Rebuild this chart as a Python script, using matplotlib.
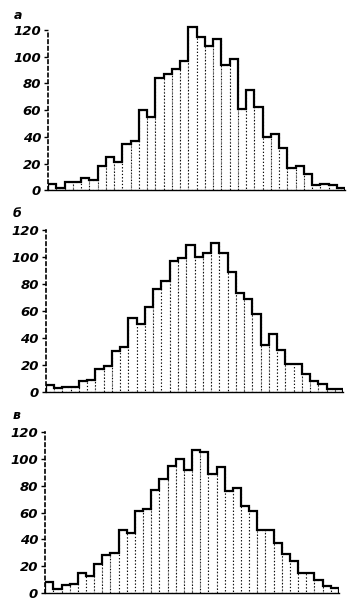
import matplotlib
matplotlib.use('Agg')
import matplotlib.pyplot as plt
import numpy as np

# частоты по классам для трёх гистограмм
counts_a = [5, 2, 6, 6, 9, 8, 18, 25, 21, 35, 37, 60, 55, 84, 87, 91, 97, 122,
            115, 108, 113, 94, 98, 61, 75, 62, 40, 42, 32, 17, 18, 12, 4, 5, 4, 2]
counts_b = [5, 3, 4, 4, 8, 9, 17, 19, 30, 33, 55, 50, 63, 76, 82, 97, 99, 109,
            100, 103, 110, 103, 89, 73, 69, 58, 35, 43, 31, 21, 21, 13, 8, 6, 2, 2]
counts_c = [8, 3, 6, 7, 15, 13, 22, 28, 30, 47, 45, 61, 63, 77, 85, 95, 100, 92,
            107, 105, 89, 94, 76, 78, 65, 61, 47, 47, 37, 29, 24, 15, 15, 10, 5, 4]
panel_labels = ['а', 'б', 'в']
y_ticks = [0, 20, 40, 60, 80, 100, 120]

fig = plt.figure(figsize=(3.53, 6.02), dpi=100)
ymax = 125
k = ymax / 120
positions = [
    [0.136, 0.684, 0.842, 0.266 * k],
    [0.130, 0.349, 0.842, 0.269 * k],
    [0.128, 0.015, 0.832, 0.267 * k],
]
label_pos = [(0.04, 0.975), (0.035, 0.645), (0.035, 0.31)]

for counts, pos, lab, lp in zip([counts_a, counts_b, counts_c], positions,
                                panel_labels, label_pos):
    ax = fig.add_axes(pos)
    n = len(counts)
    edges = np.arange(n + 1)
    # пунктирные стенки столбцов
    ax.bar(edges[:-1], counts, width=1, align='edge', color='white',
           edgecolor='black', linewidth=0.8, linestyle=(0, (1, 2)))
    # жирный контур вершин
    ax.stairs(counts, edges, color='black', linewidth=1.6)
    ax.set_xlim(0, n)
    ax.set_ylim(0, ymax)
    ax.set_yticks(y_ticks)
    ax.set_yticklabels([str(t) for t in y_ticks], fontsize=9.5,
                       fontweight='bold', fontstyle='italic')
    ax.set_xticks([])
    for s in ['top', 'right']:
        ax.spines[s].set_visible(False)
    ax.spines['left'].set_bounds(0, 120)
    ax.spines['left'].set_linestyle((0, (2, 2)))
    ax.spines['left'].set_linewidth(1.2)
    ax.spines['bottom'].set_linewidth(1.0)
    ax.tick_params(axis='y', length=3, width=1, pad=2)
    fig.text(lp[0], lp[1], lab, fontsize=9, fontweight='bold',
             fontstyle='italic', ha='left', va='center')

fig.savefig('out.png', dpi=100)
